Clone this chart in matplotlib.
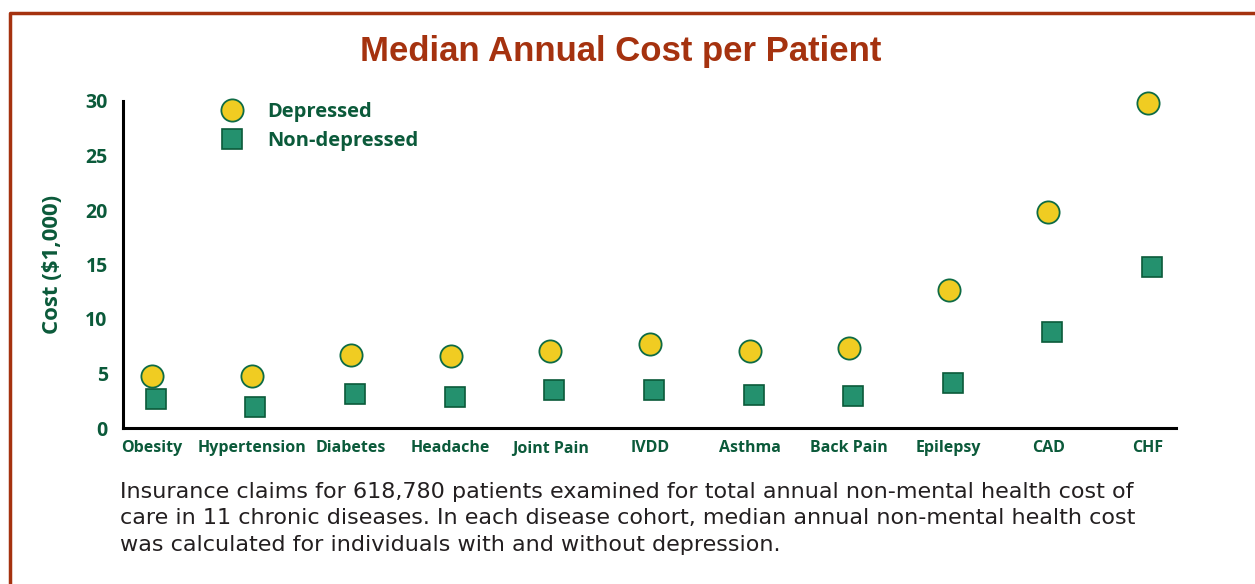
import matplotlib.pyplot as plt
from matplotlib.lines import Line2D

# valores (miles de dolares)
diseases = ["Obesity", "Hypertension", "Diabetes", "Headache", "Joint Pain", "IVDD",
            "Asthma", "Back Pain", "Epilepsy", "CAD", "CHF"]
depressed = [4.8, 4.8, 6.7, 6.6, 7.1, 7.7, 7.1, 7.3, 12.7, 19.8, 29.8]
non_depressed = [2.7, 1.9, 3.1, 2.8, 3.5, 3.5, 3.0, 2.9, 4.1, 8.8, 14.8]
yticks = [0, 5, 10, 15, 20, 25, 30]

green = "#0b5a3a"
rust = "#a5320f"

fig = plt.figure(figsize=(12.55, 5.84), dpi=100)
ax = fig.add_axes([123 / 1255, 1 - 428 / 584, (1176 - 123) / 1255, (428 - 101) / 584])

x = list(range(len(diseases)))
ax.plot(x, depressed, "o", ms=16, mfc="#f0cc22", mec="#0e6b45", mew=1.3, clip_on=False)
ax.plot([i + 0.04 for i in x], non_depressed, "s", ms=14.5, mfc="#24916e", mec=green,
        mew=1.2, clip_on=False)

ax.set_xlim(-0.29, 10.28)
ax.set_ylim(0, 30)
ax.set_xticks(x)
ax.set_xticklabels(diseases)
ax.set_yticks(yticks)
for s in ["top", "right"]:
    ax.spines[s].set_visible(False)
for s in ["left", "bottom"]:
    ax.spines[s].set_linewidth(2.2)
ax.tick_params(length=0)
ax.tick_params(axis="x", pad=9)
ax.tick_params(axis="y", pad=11)
for lab in ax.get_xticklabels():
    lab.set_fontsize(11.5)
    lab.set_fontweight("bold")
    lab.set_color(green)
    lab.set_family("Open Sans")
for lab in ax.get_yticklabels():
    lab.set_fontsize(14)
    lab.set_fontweight("bold")
    lab.set_color(green)
    lab.set_family("Open Sans")
ax.set_ylabel("Cost ($1,000)", fontsize=16, fontweight="bold", color=green,
              family="Open Sans", labelpad=16)

# leyenda
handles = [
    Line2D([], [], ls="", marker="o", ms=16, mfc="#f0cc22", mec="#0e6b45", mew=1.3),
    Line2D([], [], ls="", marker="s", ms=14.5, mfc="#24916e", mec=green, mew=1.2),
]
leg = ax.legend(handles, ["Depressed", "Non-depressed"], loc="upper left",
                bbox_to_anchor=(0.067, 1.052), frameon=False, handletextpad=0.75,
                labelspacing=0.45, prop={"family": "Open Sans", "weight": "bold", "size": 14.5})
for t in leg.get_texts():
    t.set_color(green)

fig.text(621 / 1255, 1 - 52 / 584, "Median Annual Cost per Patient", ha="center", va="center",
         fontsize=25, fontweight="bold", color=rust, family="Liberation Sans")

caption = ("Insurance claims for 618,780 patients examined for total annual non-mental health cost of\n"
           "care in 11 chronic diseases. In each disease cohort, median annual non-mental health cost\n"
           "was calculated for individuals with and without depression.")
fig.text(120 / 1255, 1 - 482 / 584, caption, ha="left", va="top", fontsize=16,
         color="#231f20", family="DejaVu Sans", linespacing=1.4)

# marco
fig.add_artist(Line2D([9.5 / 1255, 9.5 / 1255, 1], [0, 1 - 12.5 / 584, 1 - 12.5 / 584],
                      color=rust, lw=2.5, transform=fig.transFigure))

fig.savefig("out.png", dpi=100)
